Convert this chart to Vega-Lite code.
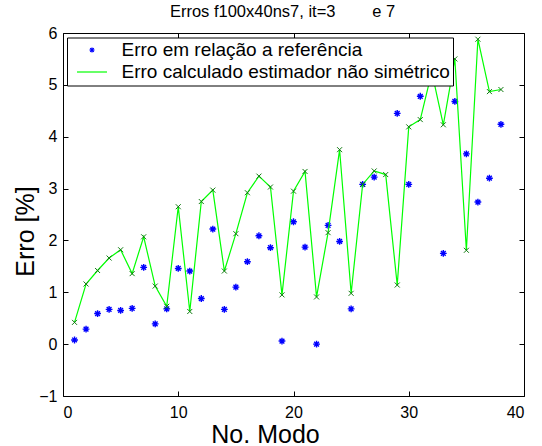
{
  "$schema": "https://vega.github.io/schema/vega-lite/v6.json",
  "width": 461,
  "height": 363,
  "autosize": {"type": "none"},
  "padding": {"left": 63, "top": 33, "right": 18, "bottom": 50},
  "background": "white",
  "title": {
    "text": "Erros f100x40ns7, it=3\u00a0\u00a0\u00a0\u00a0\u00a0\u00a0\u00a0\u00a0e 7",
    "font": "Liberation Sans",
    "fontSize": 16.5,
    "fontWeight": "normal",
    "color": "black",
    "baseline": "alphabetic",
    "frame": "group",
    "offset": 7,
    "dy": 15,
    "dx": -11,
    "anchor": "middle"
  },
  "config": {
    "view": {"stroke": "black", "strokeWidth": 1},
    "axis": {
      "domain": false,
      "grid": false,
      "tickColor": "black",
      "tickSize": -5,
      "tickWidth": 1,
      "labelFont": "Liberation Sans",
      "labelFontSize": 16,
      "labelColor": "black",
      "titleFont": "Liberation Sans",
      "titleFontSize": 25,
      "titleFontWeight": "normal",
      "titleColor": "black"
    }
  },
  "data": {
    "values": [
      {"modo": 1, "ref": 0.08, "est": 0.42},
      {"modo": 2, "ref": 0.29, "est": 1.16},
      {"modo": 3, "ref": 0.59, "est": 1.42},
      {"modo": 4, "ref": 0.67, "est": 1.66},
      {"modo": 5, "ref": 0.65, "est": 1.82},
      {"modo": 6, "ref": 0.69, "est": 1.36},
      {"modo": 7, "ref": 1.48, "est": 2.07},
      {"modo": 8, "ref": 0.39, "est": 1.12},
      {"modo": 9, "ref": 0.68, "est": 0.73},
      {"modo": 10, "ref": 1.46, "est": 2.65},
      {"modo": 11, "ref": 1.41, "est": 0.63},
      {"modo": 12, "ref": 0.88, "est": 2.75},
      {"modo": 13, "ref": 2.22, "est": 2.97},
      {"modo": 14, "ref": 0.67, "est": 1.41},
      {"modo": 15, "ref": 1.10, "est": 2.13},
      {"modo": 16, "ref": 1.59, "est": 2.92},
      {"modo": 17, "ref": 2.09, "est": 3.24},
      {"modo": 18, "ref": 1.86, "est": 3.03},
      {"modo": 19, "ref": 0.06, "est": 0.95},
      {"modo": 20, "ref": 2.36, "est": 2.95},
      {"modo": 21, "ref": 1.87, "est": 3.33},
      {"modo": 22, "ref": 0.00, "est": 0.91},
      {"modo": 23, "ref": 2.29, "est": 2.15},
      {"modo": 24, "ref": 1.98, "est": 3.75},
      {"modo": 25, "ref": 0.68, "est": 0.98},
      {"modo": 26, "ref": 3.08, "est": 3.08},
      {"modo": 27, "ref": 3.22, "est": 3.34},
      {"modo": 28, "ref": 5.30, "est": 3.27},
      {"modo": 29, "ref": 4.45, "est": 1.14},
      {"modo": 30, "ref": 3.08, "est": 4.19},
      {"modo": 31, "ref": 4.78, "est": 4.33},
      {"modo": 32, "ref": 5.60, "est": 5.25},
      {"modo": 33, "ref": 1.75, "est": 4.23},
      {"modo": 34, "ref": 4.68, "est": 5.50},
      {"modo": 35, "ref": 3.67, "est": 1.81},
      {"modo": 36, "ref": 2.74, "est": 5.88},
      {"modo": 37, "ref": 3.20, "est": 4.87},
      {"modo": 38, "ref": 4.24, "est": 4.91}
    ]
  },
  "layer": [
    {
      "mark": {
        "type": "point",
        "shape": "M-1,0L1,0M0,-1L0,1M-0.7,-0.7L0.7,0.7M-0.7,0.7L0.7,-0.7",
        "filled": false,
        "size": 46,
        "strokeWidth": 1.4,
        "opacity": 1
      },
      "encoding": {
        "x": {
          "field": "modo",
          "type": "quantitative",
          "scale": {"domain": [0, 40], "nice": false, "zero": false},
          "axis": {
            "values": [0, 10, 20, 30, 40],
            "title": "No. Modo",
            "labelPadding": 13,
            "titleX": 202,
            "titleY": 46,
            "titleBaseline": "alphabetic",
            "titleAlign": "center"
          }
        },
        "y": {
          "field": "ref",
          "type": "quantitative",
          "scale": {"domain": [-1, 6], "nice": false, "zero": false},
          "axis": {
            "values": [-1, 0, 1, 2, 3, 4, 5, 6],
            "title": "Erro [%]",
            "labelPadding": 11,
            "titleX": -30,
            "titleY": 198,
            "titleAngle": -90,
            "titleBaseline": "alphabetic",
            "titleAlign": "center"
          }
        },
        "color": {
          "datum": "Erro em relação a referência",
          "type": "nominal",
          "scale": {
            "domain": ["Erro em relação a referência", "\u00a0Erro calculado estimador não simétrico"],
            "range": ["#0000ff", "#00ff00"]
          },
          "legend": {
            "orient": "none",
            "legendX": 4,
            "legendY": 4.5,
            "title": null,
            "fillColor": "white",
            "strokeColor": "black",
            "padding": 3,
            "symbolSize": 300,
            "symbolStrokeWidth": 1.2,
            "symbolOpacity": 1,
            "symbolType": {"expr": "datum.value == 'Erro em relação a referência' ? 'M-0.3,0L0.3,0M0,-0.3L0,0.3M-0.21,-0.21L0.21,0.21M-0.21,0.21L0.21,-0.21' : 'M-1.73,0L1.73,0'"},
            "symbolOffset": 12.5,
            "labelOffset": 20,
            "rowPadding": 2,
            "labelFont": "Liberation Sans",
            "labelFontSize": 19,
            "labelColor": "black",
            "labelLimit": 600,
            "labelExpr": "datum.label + '\u00a0\u00a0\u00a0\u00a0'",
            "zindex": 1
          }
        }
      }
    },
    {
      "mark": {"type": "line", "strokeWidth": 1.2},
      "encoding": {
        "x": {
          "field": "modo",
          "type": "quantitative",
          "axis": {"orient": "top", "values": [0, 10, 20, 30, 40], "labels": false, "title": null}
        },
        "y": {
          "field": "est",
          "type": "quantitative",
          "axis": {"orient": "right", "values": [-1, 0, 1, 2, 3, 4, 5, 6], "labels": false, "title": null}
        },
        "color": {"datum": "\u00a0Erro calculado estimador não simétrico", "type": "nominal"}
      }
    },
    {
      "mark": {
        "type": "point",
        "shape": "M-1,-1L1,1M-1,1L1,-1",
        "filled": false,
        "size": 25,
        "color": "#107a10",
        "strokeWidth": 1,
        "opacity": 1
      },
      "encoding": {
        "x": {"field": "modo", "type": "quantitative", "axis": null},
        "y": {"field": "est", "type": "quantitative", "axis": null}
      }
    }
  ],
  "resolve": {"axis": {"x": "independent", "y": "independent"}}
}
